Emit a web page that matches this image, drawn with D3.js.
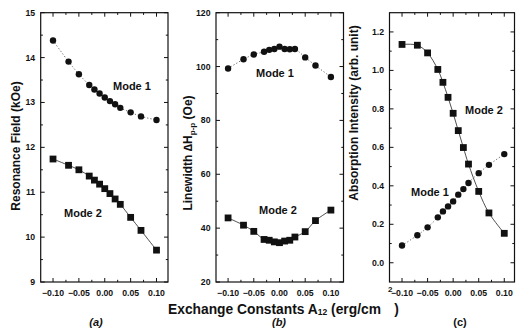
<!DOCTYPE html>
<html>
<head>
<meta charset="utf-8">
<script src="https://cdn.jsdelivr.net/npm/d3@7"></script>
<style>
  html, body { margin: 0; padding: 0; background: #fff; }
  svg { display: block; font-family: "Liberation Sans", Arial, sans-serif; }
  .tick-label { font-size: 8.7px; font-weight: bold; fill: #111; }
  .axis-title { font-size: 12px; font-weight: bold; fill: #111; }
  .mode-label { font-size: 11px; font-weight: bold; fill: #111; }
</style>
</head>
<body>
<svg id="chart" width="516" height="329"></svg>
<script>
// Exchange constant A12 (erg/cm^2) shared by every panel
const exchange = [-0.10, -0.07, -0.05, -0.03, -0.02, -0.01, 0.00, 0.01, 0.02, 0.03, 0.05, 0.07, 0.10];
const xTicks = [-0.10, -0.05, 0.00, 0.05, 0.10];
const xMinorTicks = [-0.075, -0.025, 0.025, 0.075];

// (a) Resonance field, kOe
const fieldMode1 = [14.38, 13.91, 13.63, 13.39, 13.29, 13.20, 13.11, 13.03, 12.96, 12.88, 12.78, 12.69, 12.61];
const fieldMode2 = [11.74, 11.60, 11.50, 11.36, 11.27, 11.18, 11.08, 10.97, 10.85, 10.73, 10.44, 10.15, 9.71];
const fieldTicks = [9, 10, 11, 12, 13, 14, 15];

// (b) Peak-to-peak linewidth, Oe
const widthMode1 = [99.3, 102.7, 104.5, 105.5, 106.2, 106.5, 107.4, 106.5, 106.4, 106.5, 103.4, 100.4, 96.1];
const widthMode2 = [43.8, 41.1, 38.8, 35.8, 35.5, 34.9, 34.6, 35.2, 35.5, 36.7, 38.7, 42.8, 46.7];
const widthTicks = [20, 40, 60, 80, 100, 120];

// (c) Absorption intensity, arbitrary units
const intensityMode1 = [0.090, 0.143, 0.184, 0.236, 0.267, 0.293, 0.319, 0.354, 0.383, 0.415, 0.466, 0.509, 0.565];
const intensityMode2 = [1.135, 1.131, 1.091, 1.005, 0.938, 0.860, 0.777, 0.687, 0.599, 0.513, 0.371, 0.259, 0.153];
const intensityTicks = [0.0, 0.2, 0.4, 0.6, 0.8, 1.0, 1.2];

const svg = d3.select("#chart");
const plotTop = 12.7, plotBottom = 282;

const panels = [
  {
    left: 40.7, right: 168, xDomain: [-0.1238, 0.1222],
    yDomain: [9, 15], ticks: fieldTicks, minorStep: 0.5, fmt: d3.format("d"),
    series: [
      { values: fieldMode1, shape: "circle", dashed: true },
      { values: fieldMode2, shape: "square", dashed: false }
    ],
    labels: [
      { text: "Mode 1", x: 113, y: 90 },
      { text: "Mode 2", x: 64, y: 217 }
    ],
    title: { x: 19.5, y: 146, parts: [["Resonance Field (kOe)"]] },
    panel: { text: "(a)", x: 96, italic: true }
  },
  {
    left: 216, right: 343.5, xDomain: [-0.1235, 0.1245],
    yDomain: [20, 120], ticks: widthTicks, minorStep: 10, fmt: d3.format("d"),
    series: [
      { values: widthMode1, shape: "circle", dashed: true },
      { values: widthMode2, shape: "square", dashed: false }
    ],
    labels: [
      { text: "Mode 1", x: 256, y: 77 },
      { text: "Mode 2", x: 259, y: 214 }
    ],
    title: { x: 192, y: 153, parts: [["Linewidth \u2206H"], ["p-p", "sub"], [" (Oe)"]] },
    panel: { text: "(b)", x: 279, italic: true }
  },
  {
    left: 389.5, right: 514.5, xDomain: [-0.1245, 0.120],
    yDomain: [-0.1, 1.3], ticks: intensityTicks, minorStep: 0.1, fmt: d3.format(".1f"),
    series: [
      { values: intensityMode1, shape: "circle", dashed: true },
      { values: intensityMode2, shape: "square", dashed: false }
    ],
    labels: [
      { text: "Mode 2", x: 465, y: 114 },
      { text: "Mode 1", x: 411, y: 196 }
    ],
    title: { x: 358, y: 113, parts: [["Absorption Intensity (arb. unit)"]] },
    panel: { text: "(c)", x: 460, italic: false }
  }
];

function range(a, b, step) {
  const out = [];
  const n = Math.round((b - a) / step);
  for (let i = 0; i <= n; i++) out.push(+(a + i * step).toFixed(6));
  return out;
}

panels.forEach(p => {
  const x = d3.scaleLinear().domain(p.xDomain).range([p.left, p.right]);
  const y = d3.scaleLinear().domain(p.yDomain).range([plotBottom, plotTop]);
  const g = svg.append("g");

  // frame
  g.append("rect")
    .attr("x", p.left).attr("y", plotTop)
    .attr("width", p.right - p.left).attr("height", plotBottom - plotTop)
    .attr("fill", "none").attr("stroke", "#111").attr("stroke-width", 1.2);

  // inward ticks on all four sides
  const yMinor = range(p.ticks[0], p.ticks[p.ticks.length - 1], p.minorStep)
    .filter(v => !p.ticks.some(t => Math.abs(t - v) < 1e-6));
  const tickG = g.append("g").attr("stroke", "#111").attr("stroke-width", 1);
  const hTicks = p.ticks.map(v => ({ v, len: 4 })).concat(yMinor.map(v => ({ v, len: 2.2 })));
  hTicks.forEach(t => {
    tickG.append("line").attr("x1", p.left).attr("x2", p.left + t.len)
      .attr("y1", y(t.v)).attr("y2", y(t.v));
    tickG.append("line").attr("x1", p.right).attr("x2", p.right - t.len)
      .attr("y1", y(t.v)).attr("y2", y(t.v));
  });
  const vTicks = xTicks.map(v => ({ v, len: 4 })).concat(xMinorTicks.map(v => ({ v, len: 2.2 })));
  vTicks.forEach(t => {
    tickG.append("line").attr("y1", plotBottom).attr("y2", plotBottom - t.len)
      .attr("x1", x(t.v)).attr("x2", x(t.v));
    tickG.append("line").attr("y1", plotTop).attr("y2", plotTop + t.len)
      .attr("x1", x(t.v)).attr("x2", x(t.v));
  });

  // tick labels
  g.selectAll(".ylab").data(p.ticks).enter().append("text")
    .attr("class", "tick-label")
    .attr("x", p.left - 5.5).attr("y", d => y(d) + 3)
    .attr("text-anchor", "end")
    .text(p.fmt);
  g.selectAll(".xlab").data(xTicks).enter().append("text")
    .attr("class", "tick-label")
    .attr("x", d => x(d)).attr("y", 296)
    .attr("text-anchor", "middle")
    .text(d3.format(".2f"));

  // series: connecting curve then markers
  p.series.forEach(s => {
    const pts = exchange.map((e, i) => [e, s.values[i]]);
    const line = d3.line().x(d => x(d[0])).y(d => y(d[1])).curve(d3.curveCatmullRom.alpha(0.5));
    g.append("path").datum(pts)
      .attr("d", line)
      .attr("fill", "none")
      .attr("stroke", s.dashed ? "#444" : "#222")
      .attr("stroke-width", 0.8)
      .attr("stroke-dasharray", s.dashed ? "1.2,2" : null);
    if (s.shape === "circle") {
      g.selectAll(null).data(pts).enter().append("circle")
        .attr("cx", d => x(d[0])).attr("cy", d => y(d[1]))
        .attr("r", 3.2).attr("fill", "#111");
    } else {
      const sz = 6.8;
      g.selectAll(null).data(pts).enter().append("rect")
        .attr("x", d => x(d[0]) - sz / 2).attr("y", d => y(d[1]) - sz / 2)
        .attr("width", sz).attr("height", sz).attr("fill", "#111");
    }
  });

  // mode labels
  p.labels.forEach(l => {
    g.append("text").attr("class", "mode-label")
      .attr("x", l.x).attr("y", l.y).text(l.text);
  });

  // y-axis title
  const t = g.append("text").attr("class", "axis-title")
    .attr("transform", `translate(${p.title.x},${p.title.y}) rotate(-90)`)
    .attr("text-anchor", "middle");
  p.title.parts.forEach((part, i) => {
    const ts = t.append("tspan").text(part[0]);
    if (part[1] === "sub") ts.attr("font-size", "8px").attr("dy", 2.5);
    else if (i > 0) ts.attr("dy", -2.5);
  });

  // panel letter
  g.append("text").attr("x", p.panel.x).attr("y", 326)
    .attr("text-anchor", "middle")
    .attr("font-size", "11px").attr("font-weight", "bold")
    .attr("font-style", p.panel.italic ? "italic" : "normal")
    .attr("fill", "#111")
    .text(p.panel.text);
});

// shared x-axis title
const xt = svg.append("text").attr("x", 168).attr("y", 313.5)
  .attr("font-size", "13.8px").attr("font-weight", "bold").attr("fill", "#111");
xt.append("tspan").text("Exchange Constants A");
xt.append("tspan").attr("font-size", "8.5px").attr("dy", 1).text("12");
xt.append("tspan").attr("dy", -1).text(" (erg/cm");
xt.append("tspan").attr("font-size", "8px").attr("dx", 7).attr("dy", -22).text("2");
xt.append("tspan").attr("dx", 2).attr("dy", 22).text(")");
</script>
</body>
</html>
